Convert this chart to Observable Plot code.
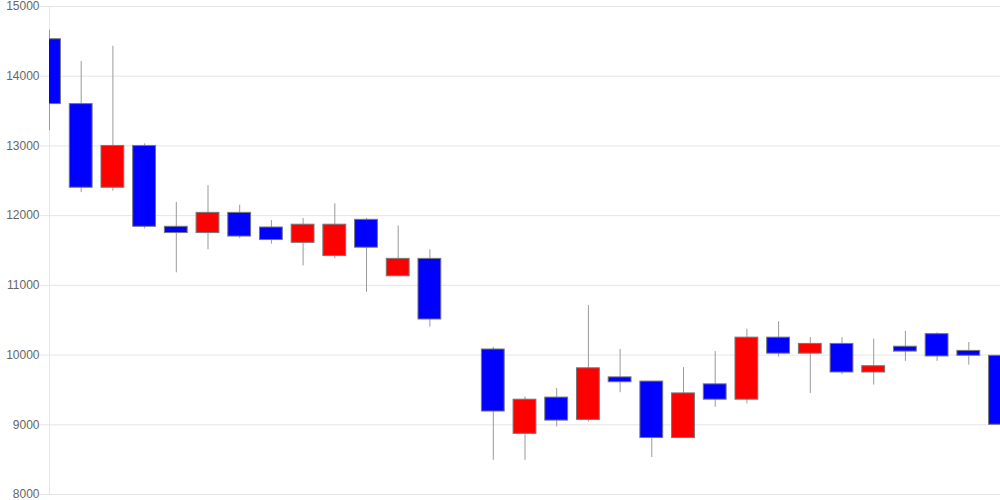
<!DOCTYPE html>
<html>
<head>
<meta charset="utf-8">
<script src="https://cdn.jsdelivr.net/npm/d3@7"></script>
<script src="https://cdn.jsdelivr.net/npm/@observablehq/plot@0.6"></script>
<style>
  html, body { margin: 0; padding: 0; background: #fff; }
  #chart svg { display: block; }
</style>
</head>
<body>
<div id="chart"></div>
<script>
const slots = [0,1,2,3,4,5,6,7,8,9,10,11,12,14,15,16,17,18,19,20,21,22,23,24,25,26,27,28,29,30];
const open  = [14530,13600,12400,13000,11840,11750,12040,11830,11610,11420,11940,11130,11380,10080,8870,9390,9070,9680,9620,8810,9580,9360,10250,10020,10160,9750,10120,10300,10060,9990];
const close = [13600,12400,13000,11840,11750,12040,11700,11650,11870,11870,11540,11380,10510,9190,9360,9060,9810,9610,8810,9450,9360,10250,10020,10160,9750,9840,10050,9980,9990,9000];
const high  = [14660,14210,14430,13030,12190,12430,12150,11930,11960,12170,11960,11850,11510,10110,9400,9520,10710,10080,9620,9820,10050,10370,10480,10250,10250,10230,10340,10320,10180,9990];
const low   = [13220,12330,12350,11810,11180,11510,11670,11590,11280,11380,10900,11130,10400,8490,8490,8970,9040,9460,8530,8810,9250,9300,9970,9450,9720,9570,9910,9910,9855,8870];
const yTicks = [8000,9000,10000,11000,12000,13000,14000,15000];

const data = slots.map((s, i) => ({slot: s, open: open[i], close: close[i], high: high[i], low: low[i]}));
const half = 0.36;

const chart = Plot.plot({
  width: 1000,
  height: 500,
  marginLeft: 49,
  marginRight: 0,
  marginTop: 6,
  marginBottom: 6,
  style: {fontFamily: "'Liberation Sans', Arial, sans-serif", fontSize: "12px", background: "#fff"},
  x: {type: "linear", domain: [0, 30], axis: null},
  y: {domain: [8000, 15000], axis: null},
  marks: [
    Plot.ruleY(yTicks, {stroke: "#e6e6e6", strokeWidth: 1}),
    Plot.axisY({ticks: yTicks, tickFormat: d => String(d), tickSize: 9, tickPadding: 1, stroke: "#e6e6e6", fill: "#666", fontSize: 12}),
    Plot.ruleX([0], {stroke: "#e6e6e6", strokeWidth: 1}),
    Plot.ruleX(data, {x: "slot", y1: "low", y2: "high", stroke: "#999", strokeWidth: 1, clip: true}),
    Plot.rect(data, {
      x1: d => d.slot - half,
      x2: d => d.slot + half,
      y1: "open",
      y2: "close",
      fill: d => d.close > d.open ? "#ff0000" : "#0000ff",
      stroke: "#777",
      strokeWidth: 1,
      clip: true
    })
  ]
});
document.getElementById("chart").appendChild(chart);
</script>
</body>
</html>
